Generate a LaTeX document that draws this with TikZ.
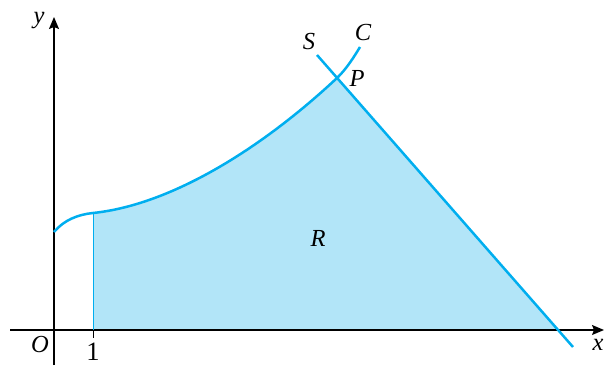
\documentclass[tikz,border=0pt]{standalone}
\usepackage{fontspec}
\setmainfont{Liberation Serif}
\usetikzlibrary{arrows.meta}
\definecolor{cline}{RGB}{0,174,239}
\definecolor{cfill}{RGB}{178,229,248}
\begin{document}
\begin{tikzpicture}[x=1pt,y=-1pt,
  axis/.style={line width=1.2pt,-{Stealth[length=12pt,width=10pt,inset=2pt]}},
  curve/.style={cline,line width=2.5pt},
  lbl/.style={font=\fontsize{24.5}{28}\selectfont\itshape,inner sep=0pt},
  num/.style={font=\fontsize{26.5}{30}\selectfont,inner sep=0pt}]
\useasboundingbox (0,0) rectangle (605,367);
\coordinate (A) at (93,330);
\coordinate (B) at (93,213);
\coordinate (P0) at (337,78);
\coordinate (X0) at (558,330);
\coordinate (C0) at (54,232);
\coordinate (C1) at (360,47);
\coordinate (S0) at (317,55);
\coordinate (S1) at (573,347);
\coordinate (xa) at (10,330);
\coordinate (xb) at (604,330);
\coordinate (ya) at (54,365);
\coordinate (yb) at (54,17);
\coordinate (tk) at (93,338);
\fill[cfill] (A) -- (B) .. controls (170,205) and (260,150) .. (P0) -- (X0) -- cycle;
\draw[axis] (xa) -- (xb);
\draw[axis] (ya) -- (yb);
\draw[line width=1pt] (A) -- (tk);
\draw[cline,line width=1pt] (A) -- (B);
\draw[curve] (C0) .. controls (64,220) and (78,214.5) .. (B) .. controls (170,205) and (260,150) .. (P0) .. controls (346,69.5) and (354,57) .. (C1);
\draw[curve] (S0) -- (S1);
\node[lbl] (lS) at (309,42) {S};
\node[lbl] (lC) at (363,33) {C};
\node[lbl] (lP) at (357,78) {P};
\node[lbl] (lR) at (318,238) {R};
\node[lbl] (lO) at (40,344.5) {O};
\node[num] (l1) at (93,352) {1};
\node[lbl] (lx) at (598,345) {x};
\node[lbl] (ly) at (39,21) {y};
\end{tikzpicture}
\end{document}
